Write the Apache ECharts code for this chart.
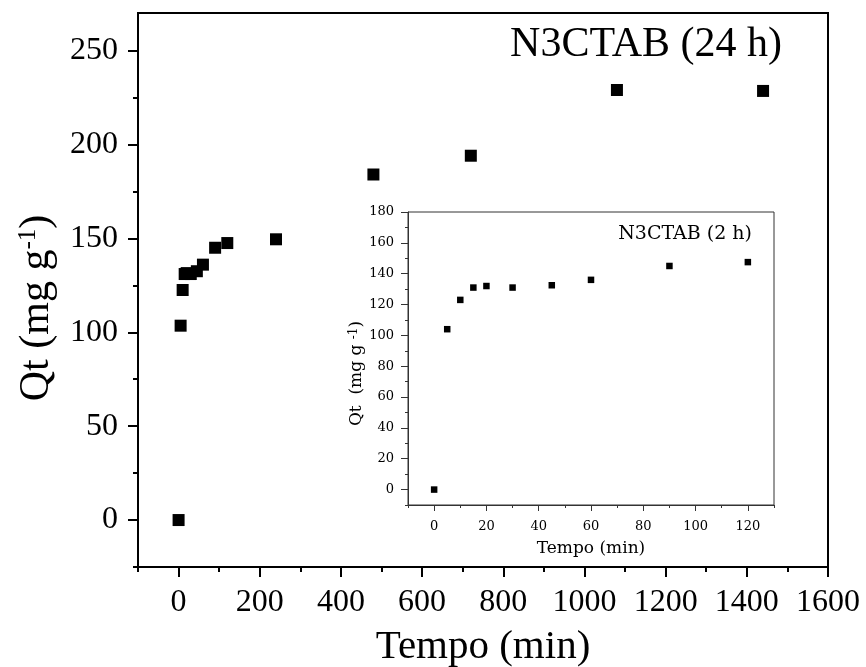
<!DOCTYPE html>
<html>
<head>
<meta charset="utf-8">
<script src="https://cdn.jsdelivr.net/npm/echarts@6/dist/echarts.min.js"></script>
<style>
  html, body { margin: 0; padding: 0; background: #fff; }
  #chart { width: 866px; height: 667px; }
</style>
</head>
<body>
<div id="chart"></div>
<script>
// 24 h data (main plot)
const longTime = [0, 5, 10, 15, 20, 30, 45, 60, 90, 120, 240, 480, 720, 1080, 1440]
const longQt = [0, 103.5, 122.5, 131, 131.5, 131, 132.5, 136, 145, 147.5, 149.5, 184, 194, 229, 228.5]
// 2 h data (inset)
const shortTime = [0, 5, 10, 15, 20, 30, 45, 60, 90, 120]
const shortQt = [0, 104, 123, 131, 132, 131, 132.5, 136, 145, 147.5]

// tick values
const mainXTicks = [0, 200, 400, 600, 800, 1000, 1200, 1400, 1600]
const mainXMinor = [-100, 100, 300, 500, 700, 900, 1100, 1300, 1500]
const mainYTicks = [0, 50, 100, 150, 200, 250]
const mainYMinor = [-25, 25, 75, 125, 175, 225]
const insetXTicks = [0, 20, 40, 60, 80, 100, 120]
const insetXMinor = [-10, 10, 30, 50, 70, 90, 110, 130]
const insetYTicks = [0, 20, 40, 60, 80, 100, 120, 140, 160, 180]
const insetYMinor = [-10, 10, 30, 50, 70, 90, 110, 130, 150, 170]

const serif = 'Liberation Serif'
const insetFont = 'DejaVu Serif'

const toPairs = (xs, ys) => xs.map((x, i) => [x, ys[i]])
const plain = (v) => String(v)

const chart = echarts.init(document.getElementById('chart'))

// 只画刻度的隐藏轴
const tickAxis = (gridIndex, min, max, position, values, length, color, width) => ({
  type: 'value', gridIndex, min, max, position,
  axisLine: { show: false, onZero: false },
  axisTick: { show: true, customValues: values, length, lineStyle: { color, width } },
  axisLabel: { show: false },
  splitLine: { show: false }
})

// 主图坐标轴
const mainX = {
  type: 'value', gridIndex: 0, min: -100, max: 1600, position: 'bottom',
  name: 'Tempo (min)', nameLocation: 'middle', nameGap: 60,
  nameTextStyle: { fontFamily: serif, fontSize: 41, color: '#000' },
  axisLine: { show: true, onZero: false, lineStyle: { color: '#000', width: 2 } },
  axisTick: { show: false },
  axisLabel: { customValues: mainXTicks, formatter: plain, fontFamily: serif, fontSize: 32, color: '#000', margin: 20 },
  splitLine: { show: false }
}
const mainY = {
  type: 'value', gridIndex: 0, min: -25, max: 270, position: 'left',
  name: 'Qt (mg g{sup|-1})', nameLocation: 'middle', nameGap: 80,
  nameTextStyle: {
    fontFamily: serif, fontSize: 42, color: '#000', padding: [0, 36, 0, 0],
    rich: { sup: { fontFamily: serif, fontSize: 25, color: '#000', verticalAlign: 'top' } }
  },
  axisLine: { show: true, onZero: false, lineStyle: { color: '#000', width: 2 } },
  axisTick: { show: false },
  axisLabel: { customValues: mainYTicks, formatter: plain, fontFamily: serif, fontSize: 32, color: '#000', margin: 20 },
  splitLine: { show: false }
}

// 插图坐标轴
const insetX = {
  type: 'value', gridIndex: 1, min: -10, max: 130, position: 'bottom',
  name: 'Tempo (min)', nameLocation: 'middle', nameGap: 35,
  nameTextStyle: { fontFamily: insetFont, fontSize: 17, color: '#000' },
  axisLine: { show: true, onZero: false, lineStyle: { color: '#333', width: 1 } },
  axisTick: { show: false },
  axisLabel: { customValues: insetXTicks, formatter: plain, fontFamily: insetFont, fontSize: 13, color: '#000', margin: 15 },
  splitLine: { show: false }
}
const insetY = {
  type: 'value', gridIndex: 1, min: -10, max: 180, position: 'left',
  name: 'Qt  (mg g {sup|-1})', nameLocation: 'middle', nameGap: 39,
  nameTextStyle: {
    fontFamily: insetFont, fontSize: 17, color: '#000', padding: [0, 30, 0, 0],
    rich: { sup: { fontFamily: insetFont, fontSize: 12, color: '#000', verticalAlign: 'top' } }
  },
  axisLine: { show: true, onZero: false, lineStyle: { color: '#333', width: 1 } },
  axisTick: { show: false },
  axisLabel: { customValues: insetYTicks, formatter: plain, fontFamily: insetFont, fontSize: 13, color: '#000', margin: 14 },
  splitLine: { show: false }
}

const option = {
  backgroundColor: '#fff',
  animation: false,
  grid: [
    { left: 138, top: 13, width: 690, height: 554, outerBoundsMode: 'none', show: true, borderColor: '#000', borderWidth: 2, backgroundColor: 'transparent' },
    { left: 408, top: 212, width: 366, height: 293, outerBoundsMode: 'none', show: true, borderColor: '#333', borderWidth: 1, backgroundColor: '#fff' }
  ],
  xAxis: [
    mainX,
    tickAxis(0, -100, 1600, 'bottom', mainXTicks, 10, '#000', 2),
    tickAxis(0, -100, 1600, 'bottom', mainXMinor, 5, '#000', 2),
    insetX,
    tickAxis(1, -10, 130, 'bottom', insetXTicks, 6, '#333', 1),
    tickAxis(1, -10, 130, 'bottom', insetXMinor, 3, '#333', 1)
  ],
  yAxis: [
    mainY,
    tickAxis(0, -25, 270, 'left', mainYTicks, 10, '#000', 2),
    tickAxis(0, -25, 270, 'left', mainYMinor, 5, '#000', 2),
    insetY,
    tickAxis(1, -10, 180, 'left', insetYTicks, 7, '#333', 1),
    tickAxis(1, -10, 180, 'left', insetYMinor, 3, '#333', 1)
  ],
  graphic: [
    { type: 'text', x: 782, y: 45, style: { text: 'N3CTAB (24 h)', font: '42px "Liberation Serif"', fill: '#000', align: 'right', verticalAlign: 'middle' } },
    { type: 'text', x: 752, y: 234, z: 10, style: { text: 'N3CTAB (2 h)', font: '19px "DejaVu Serif"', fill: '#000', align: 'right', verticalAlign: 'middle' } }
  ],
  series: [
    {
      type: 'scatter', xAxisIndex: 0, yAxisIndex: 0,
      symbol: 'rect', symbolSize: 12,
      itemStyle: { color: '#000', opacity: 1 },
      data: toPairs(longTime, longQt)
    },
    {
      type: 'scatter', xAxisIndex: 3, yAxisIndex: 3,
      symbol: 'rect', symbolSize: 6.5,
      itemStyle: { color: '#000', opacity: 1 },
      data: toPairs(shortTime, shortQt)
    }
  ]
}
chart.setOption(option)
</script>
</body>
</html>
